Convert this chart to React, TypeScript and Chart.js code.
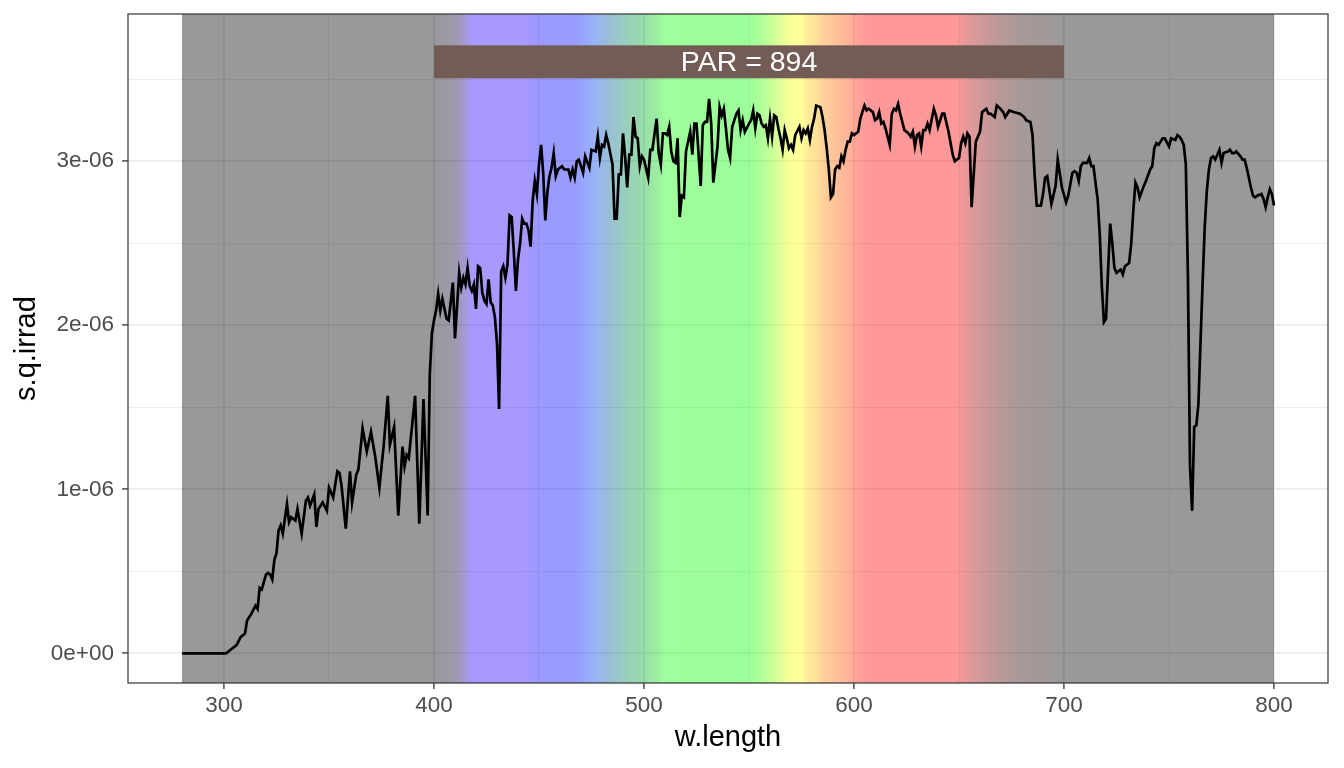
import React, { useEffect, useRef } from 'react';
import { Chart, registerables } from 'chart.js';

Chart.register(...registerables);

// ---- data: wavelength (nm) and spectral photon irradiance (x 1e-6) ----
const WAVELENGTH = [
  280, 285, 290, 295, 300, 301, 303, 306, 308, 310,
  311, 313, 315, 316, 317, 318, 320, 321, 322, 323,
  324, 325, 326, 327, 328, 330, 331, 332, 333, 334,
  335, 337, 339, 340, 341, 343, 344, 345, 347, 349,
  350, 352, 354, 355, 356, 358, 360, 361, 363, 364,
  366, 368, 370, 372, 374, 376, 378, 379, 381, 383,
  385, 386, 387, 388, 391, 393, 395, 397, 398, 399,
  400, 401, 402, 403, 404, 406, 407, 409, 410, 412,
  413, 414, 415, 416, 417, 418, 419, 420, 421, 422,
  423, 424, 425, 426, 427, 428, 429, 430, 431, 432,
  433, 434, 435, 436, 437, 438, 439, 440, 441, 442,
  443, 444, 445, 446, 447, 448, 449, 450, 451, 452,
  453, 454, 455, 456, 457, 458, 459, 461, 462, 464,
  465, 466, 467, 468, 469, 471, 472, 474, 475, 477,
  478, 479, 480, 481, 482, 483, 485, 486, 487, 488,
  489, 490, 491, 492, 493, 494, 495, 496, 497, 498,
  499, 500, 502, 503, 504, 506, 507, 508, 509, 510,
  511, 512, 513, 514, 515, 516, 517, 518, 519, 520,
  522, 523, 524, 525, 527, 528, 529, 530, 531, 532,
  533, 535, 536, 537, 538, 539, 540, 541, 542, 544,
  545, 546, 547, 548, 550, 551, 552, 553, 554, 555,
  556, 557, 558, 559, 560, 561, 562, 563, 564, 565,
  566, 567, 568, 569, 570, 571, 572, 574, 575, 576,
  577, 578, 579, 580, 581, 582, 584, 585, 586, 587,
  588, 589, 590, 591, 592, 593, 594, 595, 596, 597,
  598, 599, 600, 601, 602, 603, 605, 606, 607, 609,
  610, 611, 612, 613, 614, 615, 617, 618, 619, 620,
  621, 622, 624, 626, 627, 628, 629, 630, 631, 632,
  633, 634, 635, 636, 638, 639, 640, 642, 643, 645,
  647, 648, 650, 651, 652, 653, 654, 655, 656, 658,
  660, 661, 663, 664, 665, 667, 668, 669, 671, 672,
  674, 676, 679, 681, 682, 684, 685, 686, 687, 689,
  690, 691, 692, 694, 696, 697, 699, 701, 702, 704,
  705, 706, 707, 708, 709, 711, 712, 713, 714, 715,
  716, 717, 718, 719, 720, 721, 722, 723, 724, 725,
  727, 728, 729, 731, 732, 733, 734, 735, 736, 738,
  739, 741, 742, 743, 744, 745, 746, 747, 748, 750,
  751, 753, 754, 755, 756, 757, 758, 759, 760, 761,
  762, 763, 764, 765, 766, 767, 768, 769, 770, 771,
  772, 773, 774, 775, 776, 778, 779, 780, 781, 782,
  784, 785, 786, 787, 788, 789, 790, 791, 792, 794,
  795, 796, 797, 798, 799, 800,
];

const S_Q_IRRAD_MICRO = [
  0, 0, 0, 0, 0, 0, 0.02, 0.05, 0.10, 0.12,
  0.20, 0.24, 0.29, 0.27, 0.40, 0.39, 0.48, 0.49, 0.48, 0.45,
  0.57, 0.61, 0.75, 0.78, 0.73, 0.91, 0.80, 0.83, 0.82, 0.81,
  0.88, 0.73, 0.93, 0.95, 0.90, 0.97, 0.77, 0.88, 0.92, 0.87,
  1.01, 0.95, 1.11, 1.10, 1.02, 0.76, 1.11, 0.92, 1.09, 1.12,
  1.37, 1.23, 1.35, 1.20, 1.01, 1.26, 1.57, 1.27, 1.38, 0.84,
  1.26, 1.14, 1.21, 1.19, 1.57, 0.79, 1.55, 0.84, 1.70, 1.95,
  2.03, 2.09, 2.19, 2.09, 2.16, 2.04, 2.03, 2.26, 1.92, 2.32,
  2.23, 2.29, 2.25, 2.35, 2.24, 2.21, 2.25, 2.10, 2.36, 2.35,
  2.20, 2.15, 2.13, 2.28, 2.14, 2.12, 2.05, 1.89, 1.49, 2.33,
  2.36, 2.29, 2.37, 2.67, 2.66, 2.45, 2.21, 2.40, 2.50, 2.65,
  2.62, 2.62, 2.58, 2.48, 2.76, 2.88, 2.80, 2.98, 3.10, 2.93,
  2.64, 2.81, 2.91, 2.96, 3.05, 2.91, 2.95, 2.97, 2.95, 2.95,
  2.90, 2.95, 2.90, 3.00, 3.01, 2.93, 3.03, 2.96, 3.07, 3.06,
  3.15, 3.02, 3.10, 3.09, 3.16, 3.11, 2.98, 2.65, 2.65, 2.92,
  2.92, 3.17, 3.03, 2.84, 3.04, 3.04, 3.27, 3.15, 3.14, 2.97,
  3.03, 3.01, 2.90, 3.07, 3.07, 3.26, 3.05, 2.98, 3.17, 3.17,
  3.16, 3.21, 3.06, 3.00, 2.99, 3.14, 2.66, 2.79, 2.78, 3.06,
  3.18, 3.04, 3.23, 3.23, 2.85, 3.22, 3.24, 3.24, 3.38, 3.23,
  2.87, 3.09, 3.33, 3.28, 3.32, 3.20, 3.07, 3.02, 3.21, 3.29,
  3.31, 3.19, 3.25, 3.18, 3.23, 3.25, 3.31, 3.20, 3.29, 3.28,
  3.23, 3.21, 3.22, 3.14, 3.26, 3.15, 3.28, 3.27, 3.20, 3.14,
  3.07, 3.19, 3.14, 3.08, 3.10, 3.07, 3.16, 3.21, 3.14, 3.19,
  3.17, 3.20, 3.13, 3.21, 3.26, 3.34, 3.33, 3.27, 3.19, 3.08,
  2.95, 2.78, 2.80, 2.95, 2.97, 2.96, 3.03, 3.00, 3.07, 3.12,
  3.12, 3.17, 3.16, 3.17, 3.18, 3.26, 3.34, 3.31, 3.32, 3.30,
  3.25, 3.26, 3.30, 3.23, 3.24, 3.20, 3.10, 3.29, 3.32, 3.31,
  3.35, 3.29, 3.19, 3.17, 3.15, 3.18, 3.09, 3.16, 3.17, 3.09,
  3.19, 3.19, 3.23, 3.19, 3.32, 3.28, 3.21, 3.29, 3.29, 3.18,
  3.04, 3.00, 3.02, 3.11, 3.15, 3.11, 3.17, 3.15, 2.72, 3.12,
  3.18, 3.30, 3.32, 3.29, 3.29, 3.27, 3.34, 3.33, 3.30, 3.27,
  3.31, 3.30, 3.29, 3.27, 3.25, 3.24, 3.16, 2.92, 2.73, 2.73,
  2.80, 2.90, 2.91, 2.74, 2.85, 3.01, 2.84, 2.75, 2.79, 2.93,
  2.94, 2.93, 2.88, 2.97, 2.99, 2.99, 3.02, 2.97, 2.97, 2.87,
  2.77, 2.56, 2.24, 2.02, 2.04, 2.34, 2.62, 2.50, 2.35, 2.32,
  2.34, 2.31, 2.36, 2.38, 2.50, 2.70, 2.87, 2.84, 2.78, 2.85,
  2.88, 2.95, 2.97, 3.08, 3.11, 3.10, 3.12, 3.14, 3.14, 3.09,
  3.14, 3.13, 3.16, 3.15, 3.13, 3.10, 2.98, 2.30, 1.14, 0.87,
  1.38, 1.39, 1.52, 1.90, 2.26, 2.60, 2.82, 2.95, 3.02, 3.03,
  3.01, 3.04, 3.07, 2.99, 3.05, 3.06, 3.07, 3.05, 3.05, 3.06,
  3.03, 3.01, 3.01, 2.96, 2.90, 2.84, 2.79, 2.78, 2.79, 2.80,
  2.77, 2.72, 2.78, 2.83, 2.80, 2.73,
];
const IRRAD_UNIT = 1e-6;

// ---- axes ----
const X_LIMITS = [254.3, 825.7];
const Y_LIMITS = [-0.181e-6, 3.898e-6];
const X_TICK_VALUES = [300, 350, 400, 450, 500, 550, 600, 650, 700, 750, 800];
const X_TICK_LABELS = ['300', '', '400', '', '500', '', '600', '', '700', '', '800'];
const Y_TICK_VALUES = [0, 0.5e-6, 1e-6, 1.5e-6, 2e-6, 2.5e-6, 3e-6, 3.5e-6];
const Y_TICK_LABELS = ['0e+00', '', '1e-06', '', '2e-06', '', '3e-06', ''];
const X_TITLE = 'w.length';
const Y_TITLE = 's.q.irrad';

// ---- PAR annotation ----
const PAR_RANGE = [400, 700];
const PAR_BOX_Y = [3.506e-6, 3.707e-6];
const PAR_LABEL = 'PAR = 894';

// ---- colour band (wavelength -> colour, drawn at 40% opacity) ----
const BAND_WL = [
  280, 398, 404, 409, 412, 415, 418, 444, 447, 452,
  467, 471, 477, 483, 488, 493, 497, 503, 507, 510,
  550, 555, 559, 563, 567, 571, 575, 578, 582, 585,
  589, 593, 597, 600, 603, 606, 648, 655, 662, 668,
  675, 683, 695, 700, 800,
];
const BAND_RGB = [
  [0, 0, 0], [0, 0, 0], [5, 0, 18], [13, 0, 43], [23, 0, 93], [30, 0, 155], [38, 0, 255], [38, 0, 255], [18, 0, 255], [0, 5, 255],
  [0, 5, 255], [0, 30, 255], [0, 68, 230], [0, 93, 155], [0, 118, 118], [0, 143, 80], [0, 155, 55], [5, 193, 30], [5, 218, 18], [13, 255, 5],
  [5, 255, 0], [43, 255, 0], [93, 255, 0], [155, 255, 0], [205, 255, 0], [255, 255, 0], [255, 255, 0], [255, 205, 0], [255, 180, 0], [255, 143, 0],
  [255, 118, 0], [255, 93, 0], [255, 68, 0], [255, 43, 0], [255, 18, 0], [255, 0, 0], [255, 0, 0], [180, 0, 0], [130, 0, 0], [93, 0, 0],
  [55, 0, 0], [30, 0, 0], [18, 0, 0], [0, 0, 0], [0, 0, 0],
];
const BAND_ALPHA = 0.4;

const FONT = '"Liberation Sans", Arial, Helvetica, sans-serif';

const bandPlugin = {
  id: 'spectrumBand',
  beforeDatasetsDraw(chart: any) {
    const { ctx, chartArea, scales } = chart;
    const x = scales.x;
    const y = scales.y;
    const wl0 = BAND_WL[0];
    const wl1 = BAND_WL[BAND_WL.length - 1];
    const x0 = x.getPixelForValue(wl0);
    const x1 = x.getPixelForValue(wl1);
    ctx.save();
    const grad = ctx.createLinearGradient(x0, 0, x1, 0);
    BAND_WL.forEach((wl, i) => {
      const [r, g, b] = BAND_RGB[i];
      grad.addColorStop((wl - wl0) / (wl1 - wl0), `rgba(${r},${g},${b},${BAND_ALPHA})`);
    });
    ctx.fillStyle = grad;
    ctx.fillRect(x0, chartArea.top, x1 - x0, chartArea.bottom - chartArea.top);

    // PAR box
    const px0 = x.getPixelForValue(PAR_RANGE[0]);
    const px1 = x.getPixelForValue(PAR_RANGE[1]);
    const py0 = y.getPixelForValue(PAR_BOX_Y[1]);
    const py1 = y.getPixelForValue(PAR_BOX_Y[0]);
    ctx.fillStyle = '#735C56';
    ctx.fillRect(px0, py0, px1 - px0, py1 - py0);
    ctx.fillStyle = '#FFFFFF';
    ctx.font = `28.5px ${FONT}`;
    ctx.textAlign = 'center';
    ctx.textBaseline = 'middle';
    ctx.fillText(PAR_LABEL, (px0 + px1) / 2, (py0 + py1) / 2 + 1);
    ctx.restore();
  },
  afterDraw(chart: any) {
    const { ctx, chartArea } = chart;
    ctx.save();
    ctx.strokeStyle = '#333333';
    ctx.lineWidth = 1.2;
    ctx.strokeRect(chartArea.left, chartArea.top, chartArea.right - chartArea.left, chartArea.bottom - chartArea.top);
    ctx.restore();
  },
};

export default function App() {
  const canvasRef = useRef<HTMLCanvasElement | null>(null);

  useEffect(() => {
    document.body.style.margin = '0';
    const canvas = canvasRef.current;
    if (!canvas) return;
    const points = WAVELENGTH.map((wl, i) => ({ x: wl, y: S_Q_IRRAD_MICRO[i] * IRRAD_UNIT }));

    const chart = new Chart(canvas, {
      type: 'line',
      data: {
        datasets: [
          {
            data: points,
            borderColor: '#000000',
            borderWidth: 2.7,
            pointRadius: 0,
            tension: 0,
            fill: false,
          },
        ],
      },
      options: {
        animation: false,
        responsive: true,
        maintainAspectRatio: false,
        layout: { padding: { left: 0, right: 16, top: 14, bottom: 0 } },
        plugins: {
          legend: { display: false },
          tooltip: { enabled: false },
        },
        scales: {
          x: {
            type: 'linear',
            min: X_LIMITS[0],
            max: X_LIMITS[1],
            afterBuildTicks: (scale: any) => {
              scale.ticks = X_TICK_VALUES.map((v) => ({ value: v }));
            },
            afterFit: (scale: any) => {
              scale.height = 85;
              scale.paddingLeft = 0;
              scale.paddingRight = 0;
            },
            ticks: {
              autoSkip: false,
              maxRotation: 0,
              padding: 3,
              color: '#4D4D4D',
              font: { family: FONT, size: 22.5 },
              callback: (_v: any, i: number) => X_TICK_LABELS[i],
            },
            grid: {
              color: '#EBEBEB',
              lineWidth: (c: any) => (X_TICK_LABELS[c.index] ? 1.8 : 0.9),
              tickColor: (c: any) => (X_TICK_LABELS[c.index] ? '#333333' : 'rgba(0,0,0,0)'),
              tickLength: 6,
              tickWidth: 1.3,
            },
            border: { display: false },
            title: {
              display: true,
              text: X_TITLE,
              color: '#000000',
              font: { family: FONT, size: 29 },
              padding: { top: 0, bottom: 13 },
            },
          },
          y: {
            type: 'linear',
            min: Y_LIMITS[0],
            max: Y_LIMITS[1],
            afterBuildTicks: (scale: any) => {
              scale.ticks = Y_TICK_VALUES.map((v) => ({ value: v }));
            },
            afterFit: (scale: any) => {
              scale.width = 128;
              scale.paddingTop = 0;
              scale.paddingBottom = 0;
            },
            ticks: {
              autoSkip: false,
              padding: 8,
              color: '#4D4D4D',
              font: { family: FONT, size: 22.5 },
              callback: (_v: any, i: number) => Y_TICK_LABELS[i],
            },
            grid: {
              color: '#EBEBEB',
              lineWidth: (c: any) => (Y_TICK_LABELS[c.index] ? 1.8 : 0.9),
              tickColor: (c: any) => (Y_TICK_LABELS[c.index] ? '#333333' : 'rgba(0,0,0,0)'),
              tickLength: 6,
              tickWidth: 1.3,
            },
            border: { display: false },
            title: {
              display: true,
              text: Y_TITLE,
              color: '#000000',
              font: { family: FONT, size: 29 },
              padding: { top: 10, bottom: 0 },
            },
          },
        },
      } as any,
      plugins: [bandPlugin],
    });

    return () => {
      chart.destroy();
    };
  }, []);

  return (
    <div style={{ position: 'absolute', left: 0, top: 0, width: 1344, height: 768 }}>
      <canvas ref={canvasRef} />
    </div>
  );
}
